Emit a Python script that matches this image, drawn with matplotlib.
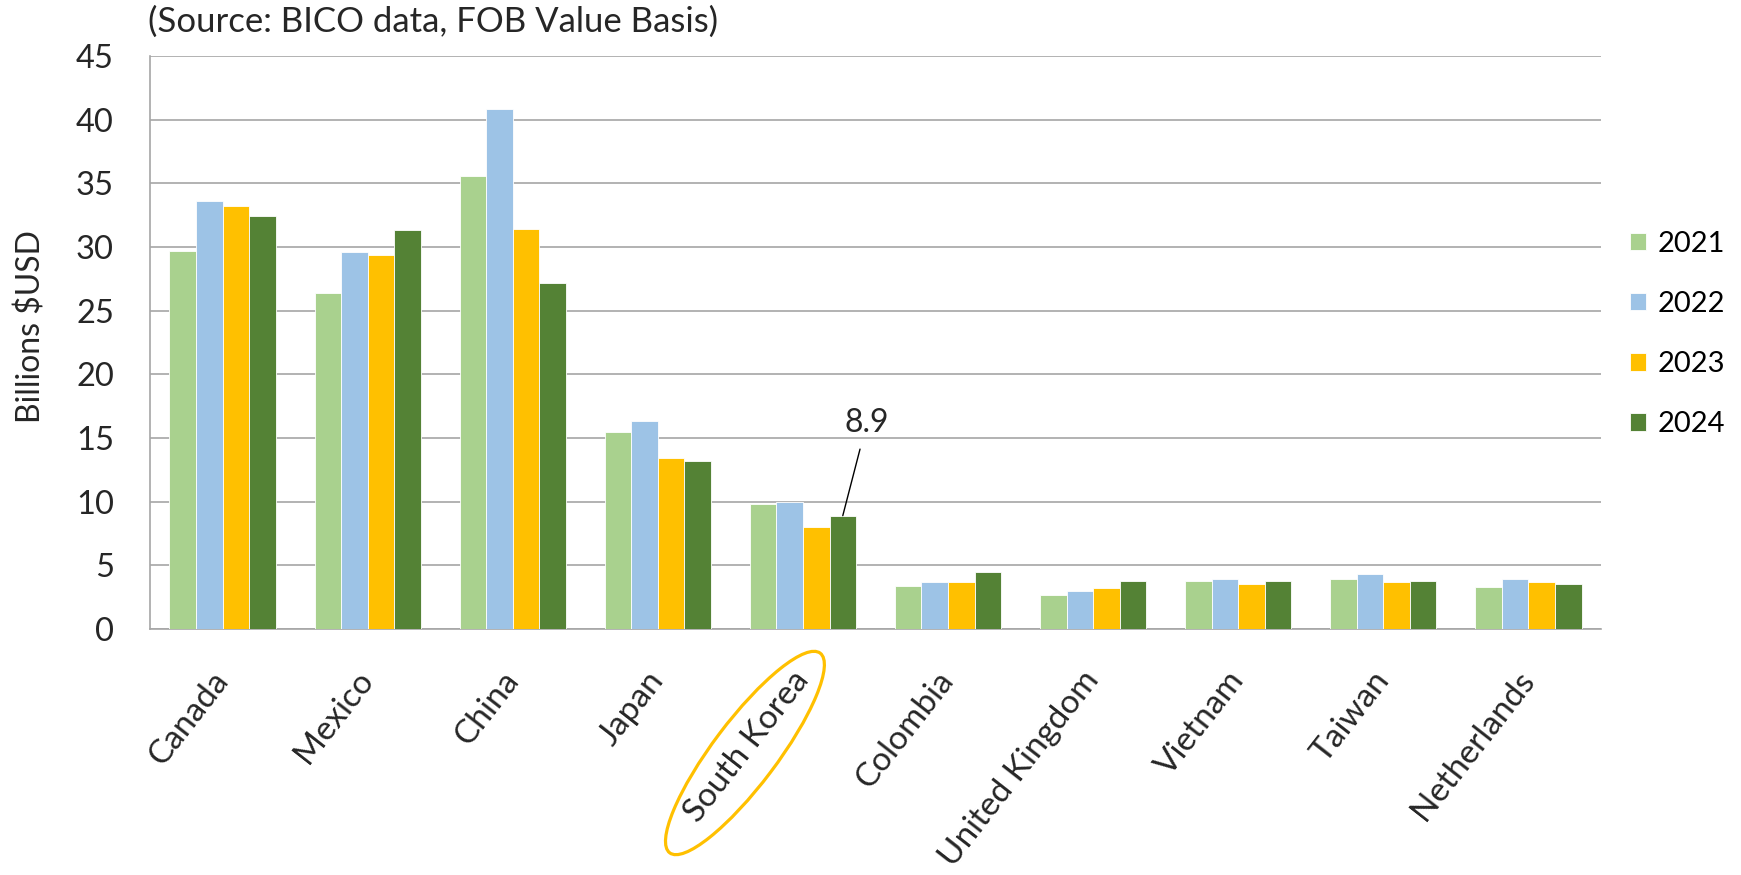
import matplotlib
matplotlib.use("Agg")
import matplotlib.pyplot as plt
from matplotlib.patches import Ellipse
import numpy as np

categories = ["Canada", "Mexico", "China", "Japan", "South Korea", "Colombia",
              "United Kingdom", "Vietnam", "Taiwan", "Netherlands"]
years = ["2021", "2022", "2023", "2024"]
v2021 = [29.7, 26.4, 35.6, 15.5, 9.8, 3.4, 2.7, 3.8, 3.9, 3.3]
v2022 = [33.6, 29.6, 40.8, 16.3, 10.0, 3.7, 3.0, 3.9, 4.3, 3.9]
v2023 = [33.2, 29.4, 31.4, 13.4, 8.0, 3.7, 3.2, 3.5, 3.7, 3.7]
v2024 = [32.4, 31.3, 27.2, 13.2, 8.9, 4.5, 3.8, 3.8, 3.8, 3.5]
yticks = [0, 5, 10, 15, 20, 25, 30, 35, 40, 45]
colors = ["#A9D18E", "#9DC3E6", "#FFC000", "#548235"]

plt.rcParams['font.family'] = ['Lato', 'DejaVu Sans']

W, H = 1741, 875
fig = plt.figure(figsize=(W / 100, H / 100), dpi=100)
ax = fig.add_axes([150 / W, 1 - 629 / H, (1601 - 150) / W, (629 - 56) / H])

x = np.arange(len(categories))
bw = 0.183
series = [v2021, v2022, v2023, v2024]
for i, (vals, c, yr) in enumerate(zip(series, colors, years)):
    ax.bar(x + (i - 1.5) * bw, vals, bw, color=c, label=yr,
           edgecolor='white', linewidth=0.6, zorder=3)

ax.set_xlim(-0.5, len(categories) - 0.5)
ax.set_ylim(0, 45)
ax.set_yticks(yticks)
ax.set_yticklabels([str(t) for t in yticks], fontsize=23.5, color='#262626')
ax.yaxis.grid(True, color='#A6A6A6', linewidth=1.2, zorder=0)
ax.set_axisbelow(True)
for s in ['top', 'right']:
    ax.spines[s].set_visible(False)
for s in ['left', 'bottom']:
    ax.spines[s].set_color('#A6A6A6')
    ax.spines[s].set_linewidth(1.2)
ax.tick_params(axis='both', length=0)
ax.tick_params(axis='y', pad=26)
ax.set_xticks(x)
ax.set_xticklabels(categories, rotation=52, ha='right', va='center',
                   rotation_mode='anchor', fontsize=24, color='#262626')
ax.tick_params(axis='x', pad=33)
ax.set_ylabel("Billions $USD", fontsize=23, color='#262626')
ax.yaxis.set_label_coords((46 - 150) / 1451, (629 - 327) / 573)

fig.text(148 / W, 1 - 22 / H, "(Source: BICO data, FOB Value Basis)",
         fontsize=25, va='center', ha='left', color='#262626')

# annotation for South Korea 2024
sk = categories.index("South Korea")
ax.annotate("8.9", xy=(sk + 1.5 * bw, v2024[sk]), xytext=(sk + 1.5 * bw + 0.165, 15.45),
            fontsize=23, ha='center', va='baseline', color='#262626',
            arrowprops=dict(arrowstyle='-', color='black', lw=1.0, shrinkA=6, shrinkB=0))

# legend
leg = fig.legend(loc='center left', bbox_to_anchor=(1630 / W, 1 - 334 / H), frameon=False,
                 fontsize=21, handlelength=0.55, handleheight=0.55, handletextpad=0.4,
                 labelspacing=1.17, borderaxespad=0, borderpad=0)

# ellipse around South Korea label
fig.canvas.draw()
cx, cy = ax.transData.transform((sk, 0))
ell = Ellipse((cx - 58, cy - 124), width=250, height=64, angle=53, fill=False,
              edgecolor='#FFC000', linewidth=2.3, transform=None, clip_on=False)
fig.add_artist(ell)

fig.savefig("out.png", dpi=100)
